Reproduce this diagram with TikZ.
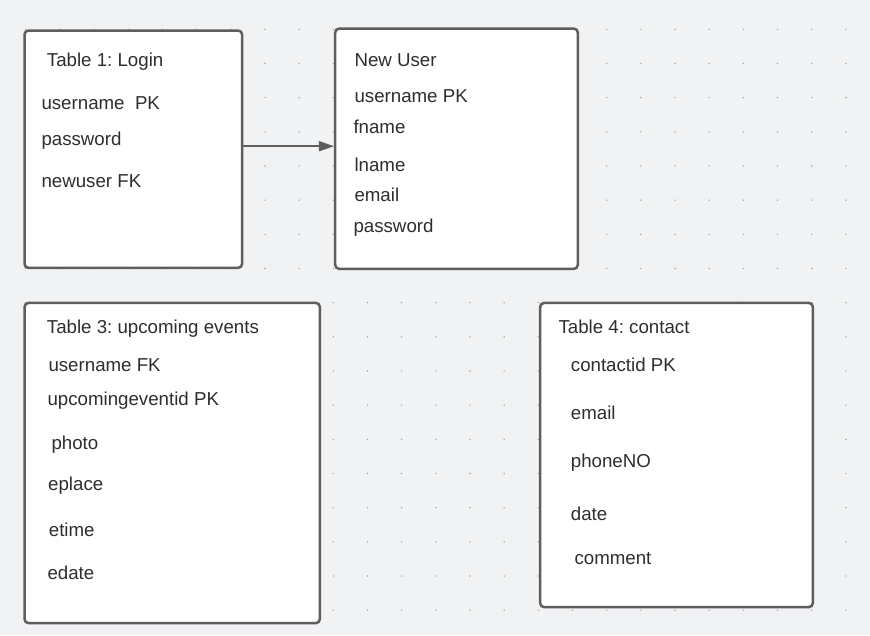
\documentclass[tikz,border=0pt]{standalone}
\usepackage{fontspec}
\setmainfont{Liberation Sans}
\usetikzlibrary{arrows.meta}
\definecolor{bgcol}{HTML}{F1F2F4}
\definecolor{linecol}{HTML}{5E5E5E}
\definecolor{txtcol}{HTML}{2E2E2E}
\definecolor{dotcol}{HTML}{A3A3A3}
\frenchspacing

\begin{document}
\begin{tikzpicture}[x=1pt,y=-1pt,
  tbl/.style={draw=linecol,line width=2.5pt,fill=white,rounded corners=4pt,inner sep=0pt},
  fld/.style={anchor=base west,inner sep=0pt,text=txtcol,font=\fontsize{18.7}{22}\selectfont},
  link/.style={draw=linecol,line width=1.5pt,-{Triangle[length=15pt,width=10pt]}}]
\fill[bgcol] (0,0) rectangle (870,635);
\useasboundingbox (0,0) rectangle (870,635);
% dot grid
\foreach \i in {0,...,24}
  \foreach \j in {0,...,17}
    \fill[dotcol] (25.8+34.17*\i,29.3+34.17*\j) circle (0.8pt);

% tables
\node[tbl,minimum width=217.6pt,minimum height=237.3pt] (login) at (133.3,149.2) {};
\node[tbl,minimum width=242.6pt,minimum height=240.3pt] (newuser) at (456.5,148.7) {};
\node[tbl,minimum width=295.3pt,minimum height=320.2pt] (events) at (172.2,463) {};
\node[tbl,minimum width=272.6pt,minimum height=304.2pt] (contact) at (676.5,455) {};

% Table 1
\node[fld] (logintitle) at (46.7,66) {Table 1: Login};
\node[fld] (loginuser) at (41.3,109.3) {username\ \ PK};
\node[fld] (loginpass) at (41.3,145.7) {password};
\node[fld] (loginnew) at (41.3,187.7) {newuser FK};

% New User
\node[fld] (newtitle) at (354.3,66) {New User};
\node[fld] (newuname) at (354.3,102.3) {username PK};
\node[fld] (newfname) at (353.3,133.3) {fname};
\node[fld] (newlname) at (354.3,171.7) {lname};
\node[fld] (newemail) at (354.3,201) {email};
\node[fld] (newpass) at (353.3,232.3) {password};

% Table 3
\node[fld] (evtitle) at (46.7,333.3) {Table 3: upcoming events};
\node[fld] (evuser) at (48.3,371) {username FK};
\node[fld] (evid) at (47.3,405.7) {upcomingeventid PK};
\node[fld] (evphoto) at (51.3,449) {photo};
\node[fld] (evplace) at (48,490) {eplace};
\node[fld] (evtime) at (48.7,536) {etime};
\node[fld] (evdate) at (47.3,579.3) {edate};

% Table 4
\node[fld] (cttitle) at (558.3,333.3) {Table 4: contact};
\node[fld] (ctid) at (570.7,371) {contactid PK};
\node[fld] (ctemail) at (570.7,419) {email};
\node[fld] (ctphone) at (570.7,467.7) {phoneNO};
\node[fld] (ctdate) at (570.7,520.7) {date};
\node[fld] (ctcomment) at (574.3,564) {comment};

\draw[link] ([yshift=3pt]login.east) -- ([yshift=3pt]login.east -| newuser.west);
\end{tikzpicture}
\end{document}
